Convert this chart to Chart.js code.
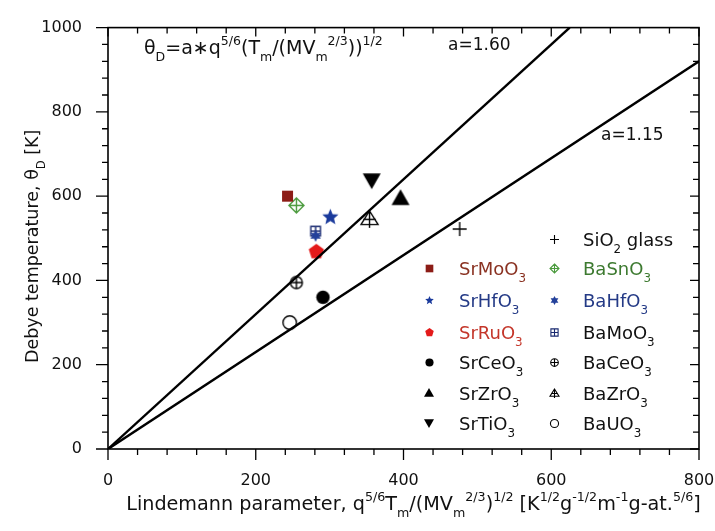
<!DOCTYPE html>
<html>
<head>
<meta charset="utf-8">
<script src="https://cdn.jsdelivr.net/npm/chart.js@4.4.0/dist/chart.umd.min.js"></script>
<style>
  html, body { margin: 0; padding: 0; background: #fff; }
</style>
</head>
<body>
<canvas id="chart" width="715" height="531"></canvas>
<script>
// data
const compounds = ['SiO2 glass', 'SrMoO3', 'BaSnO3', 'SrHfO3', 'BaHfO3', 'SrRuO3', 'BaMoO3',
                   'SrCeO3', 'BaCeO3', 'SrZrO3', 'BaZrO3', 'SrTiO3', 'BaUO3'];
const lindemann = [476, 243, 255, 301, 281, 282, 281, 291, 255, 396, 354, 357, 246];
const debyeTemp = [522, 600, 578, 550, 506, 468, 517, 360, 395, 595, 545, 638, 300];

// theta_D = a * L lines, given by their end points
const lineA160 = [{x: 0, y: 0}, {x: 625, y: 1000}];
const lineA115 = [{x: 0, y: 0}, {x: 800, y: 920}];

const xTicks = [0, 200, 400, 600, 800];
const yTicks = [0, 200, 400, 600, 800, 1000];

// marker look for each compound
const shapes = ['plus', 'square', 'diamondPlus', 'star', 'star6', 'pentagon', 'squarePlus',
                'circle', 'circlePlus', 'triUp', 'triUpPlus', 'triDown', 'circleOpen'];
const markColors = ['#000', '#8c1c16', '#4a9a3c', '#1a3a9c', '#23409a', '#e41a1a', '#1a2a70',
                    '#000', '#000', '#000', '#000', '#000', '#000'];
const textColors = ['#111', '#8a3222', '#3d7a30', '#243a86', '#243a86', '#c4362a', '#111',
                    '#111', '#111', '#111', '#111', '#111', '#111'];
const labels = ['SiO_{2} glass', 'SrMoO_{3}', 'BaSnO_{3}', 'SrHfO_{3}', 'BaHfO_{3}', 'SrRuO_{3}', 'BaMoO_{3}',
                'SrCeO_{3}', 'BaCeO_{3}', 'SrZrO_{3}', 'BaZrO_{3}', 'SrTiO_{3}', 'BaUO_{3}'];
const legendCol1 = ['SrMoO3', 'SrHfO3', 'SrRuO3', 'SrCeO3', 'SrZrO3', 'SrTiO3'];
const legendCol2 = ['SiO2 glass', 'BaSnO3', 'BaHfO3', 'BaMoO3', 'BaCeO3', 'BaZrO3', 'BaUO3'];

const FONT = '"DejaVu Sans", sans-serif';

function makeMarker(shape, size, color, lw) {
  const s = Math.ceil(size + 6);
  const c = document.createElement('canvas');
  c.width = s; c.height = s;
  const g = c.getContext('2d');
  const m = s / 2, r = size / 2;
  g.strokeStyle = color;
  g.fillStyle = color;
  g.lineWidth = lw || 1.3;
  g.beginPath();
  const plus = (rr) => { g.moveTo(m, m - rr); g.lineTo(m, m + rr); g.moveTo(m - rr, m); g.lineTo(m + rr, m); };
  const star = (n, inner) => {
    for (let i = 0; i < n * 2; i++) {
      const a = -Math.PI / 2 + i * Math.PI / n;
      const rr = i % 2 ? r * inner : r;
      g.lineTo(m + rr * Math.cos(a), m + rr * Math.sin(a));
    }
    g.closePath(); g.fill();
  };
  switch (shape) {
    case 'square': g.rect(m - r * 0.85, m - r * 0.85, r * 1.7, r * 1.7); g.fill(); break;
    case 'squarePlus': g.rect(m - r * 0.8, m - r * 0.8, r * 1.6, r * 1.6); plus(r * 0.8); g.stroke(); break;
    case 'diamondPlus':
      g.moveTo(m, m - r); g.lineTo(m + r, m); g.lineTo(m, m + r); g.lineTo(m - r, m); g.closePath();
      plus(r); g.stroke(); break;
    case 'circle': g.arc(m, m, r * 0.9, 0, Math.PI * 2); g.fill(); break;
    case 'circleOpen': g.arc(m, m, r * 0.9, 0, Math.PI * 2); g.stroke(); break;
    case 'circlePlus': g.arc(m, m, r * 0.85, 0, Math.PI * 2); plus(r * 0.85); g.stroke(); break;
    case 'triUp': g.moveTo(m, m - r); g.lineTo(m + r, m + r * 0.75); g.lineTo(m - r, m + r * 0.75); g.closePath(); g.fill(); break;
    case 'triDown': g.moveTo(m, m + r); g.lineTo(m + r, m - r * 0.75); g.lineTo(m - r, m - r * 0.75); g.closePath(); g.fill(); break;
    case 'triUpPlus':
      g.moveTo(m, m - r); g.lineTo(m + r, m + r * 0.6); g.lineTo(m - r, m + r * 0.6); g.closePath();
      g.moveTo(m, m - r); g.lineTo(m, m + r); g.moveTo(m - r * 0.75, m); g.lineTo(m + r * 0.75, m);
      g.stroke(); break;
    case 'star': star(5, 0.45); break;
    case 'star6': star(6, 0.55); break;
    case 'pentagon':
      for (let i = 0; i < 5; i++) {
        const a = -Math.PI / 2 + i * 2 * Math.PI / 5;
        g.lineTo(m + r * Math.cos(a), m + r * Math.sin(a));
      }
      g.closePath(); g.fill(); break;
    case 'plus': plus(r); g.stroke(); break;
  }
  return c;
}

const dataSizes = {plus: 14, square: 13, diamondPlus: 15, star: 17, star6: 12, pentagon: 16, squarePlus: 12,
                   circle: 15, circlePlus: 14, triUp: 18, triUpPlus: 17, triDown: 18, circleOpen: 15};

// rich text with _{sub} and ^{sup}
const SUB = 0.66;
function parseRich(str) {
  const parts = [];
  const re = /([_^])\{([^}]*)\}/g;
  let last = 0, mm;
  while ((mm = re.exec(str))) {
    if (mm.index > last) parts.push([str.slice(last, mm.index), 0]);
    parts.push([mm[2], mm[1] === '_' ? 1 : -1]);
    last = re.lastIndex;
  }
  if (last < str.length) parts.push([str.slice(last), 0]);
  return parts;
}
function richWidth(ctx, str, size) {
  let w = 0;
  for (const [t, k] of parseRich(str)) {
    ctx.font = (k ? size * SUB : size) + 'px ' + FONT;
    w += ctx.measureText(t).width;
  }
  return w;
}
function drawRich(ctx, str, x, y, size, color, align) {
  ctx.save();
  ctx.fillStyle = color;
  ctx.textBaseline = 'alphabetic';
  ctx.textAlign = 'left';
  if (align === 'center') x -= richWidth(ctx, str, size) / 2;
  for (const [t, k] of parseRich(str)) {
    ctx.font = (k ? size * SUB : size) + 'px ' + FONT;
    const dy = k === 1 ? size * 0.38 : k === -1 ? -size * 0.45 : 0;
    ctx.fillText(t, x, y + dy);
    x += ctx.measureText(t).width;
  }
  ctx.restore();
}

const framePlugin = {
  id: 'frame',
  afterDraw(chart) {
    const ctx = chart.ctx;
    const a = chart.chartArea;
    const xs = chart.scales.x, ys = chart.scales.y;
    ctx.save();
    ctx.strokeStyle = '#000';
    ctx.lineWidth = 1.6;
    ctx.strokeRect(a.left, a.top, a.right - a.left, a.bottom - a.top);
    ctx.lineWidth = 1.3;
    ctx.beginPath();
    for (let v = 0; v <= 800; v += 40) {
      const px = xs.getPixelForValue(v);
      const major = v % 200 === 0;
      ctx.moveTo(px, a.bottom); ctx.lineTo(px, a.bottom + (major ? 11 : 6));
      ctx.moveTo(px, a.top); ctx.lineTo(px, a.top + (major ? 9 : 6));
    }
    for (let v = 0; v <= 1000; v += 40) {
      const py = ys.getPixelForValue(v);
      const major = v % 200 === 0;
      ctx.moveTo(a.left, py); ctx.lineTo(a.left - (major ? 12 : 6), py);
      ctx.moveTo(a.right, py); ctx.lineTo(a.right - (major ? 9 : 6), py);
    }
    ctx.stroke();
    ctx.restore();

    // titles
    drawRich(ctx, 'Lindemann parameter, q^{5/6}T_{m}/(MV_{m}^{2/3})^{1/2} [K^{1/2}g^{-1/2}m^{-1}g-at.^{5/6}]',
             (a.left + a.right) / 2 + 10, 510, 19.2, '#111', 'center');
    ctx.save();
    ctx.translate(32, (a.top + a.bottom) / 2 + 8);
    ctx.rotate(-Math.PI / 2);
    drawRich(ctx, 'Debye temperature, θ_{D} [K]', 0, 6, 17.5, '#111', 'center');
    ctx.restore();

    drawRich(ctx, 'θ_{D}=a∗q^{5/6}(T_{m}/(MV_{m}^{2/3}))^{1/2}', 144, 54, 19, '#111');
    drawRich(ctx, 'a=1.60', 448, 50, 17, '#111');
    drawRich(ctx, 'a=1.15', 601, 140, 17, '#111');

    // legend
    const rowY = [268, 300, 332, 362, 393, 423];
    const drawEntry = (name, mx, tx, y) => {
      const i = compounds.indexOf(name);
      const mk = makeMarker(shapes[i], shapes[i] === 'triUp' || shapes[i] === 'triDown' ? 10 : 9, markColors[i], 1.1);
      ctx.drawImage(mk, Math.round(mx - mk.width / 2), Math.round(y - mk.height / 2));
      drawRich(ctx, labels[i], tx, y + 7, 18, textColors[i]);
    };
    legendCol1.forEach((n, k) => drawEntry(n, 429, 459, rowY[k]));
    drawEntry(legendCol2[0], 554, 583, 239);
    legendCol2.slice(1).forEach((n, k) => drawEntry(n, 554, 583, rowY[k]));
  }
};

const datasets = [
  {type: 'line', data: lineA160, borderColor: '#000', borderWidth: 2.4, pointRadius: 0},
  {type: 'line', data: lineA115, borderColor: '#000', borderWidth: 2.4, pointRadius: 0}
];
compounds.forEach((name, i) => {
  datasets.push({
    label: name,
    data: [{x: lindemann[i], y: debyeTemp[i]}],
    pointStyle: makeMarker(shapes[i], dataSizes[shapes[i]], markColors[i], 1.4)
  });
});

new Chart(document.getElementById('chart'), {
  type: 'scatter',
  data: {datasets: datasets},
  options: {
    responsive: false,
    animation: false,
    layout: {padding: {top: 16, right: 16, left: 0, bottom: 0}},
    plugins: {legend: {display: false}, tooltip: {enabled: false}},
    scales: {
      x: {
        min: 0, max: 800,
        grid: {display: false},
        border: {display: false},
        ticks: {stepSize: 200, padding: 14, color: '#111', font: {family: FONT, size: 16},
                callback: (v) => xTicks.includes(v) ? v : ''},
        afterFit: (s) => { s.height = 82; s.paddingLeft = 0; s.paddingRight = 0; }
      },
      y: {
        min: 0, max: 1000,
        grid: {display: false},
        border: {display: false},
        ticks: {stepSize: 200, padding: 18, color: '#111', font: {family: FONT, size: 16},
                callback: (v) => yTicks.includes(v) ? v : ''},
        afterFit: (s) => { s.width = 108; }
      }
    }
  },
  plugins: [framePlugin]
});
</script>
</body>
</html>
